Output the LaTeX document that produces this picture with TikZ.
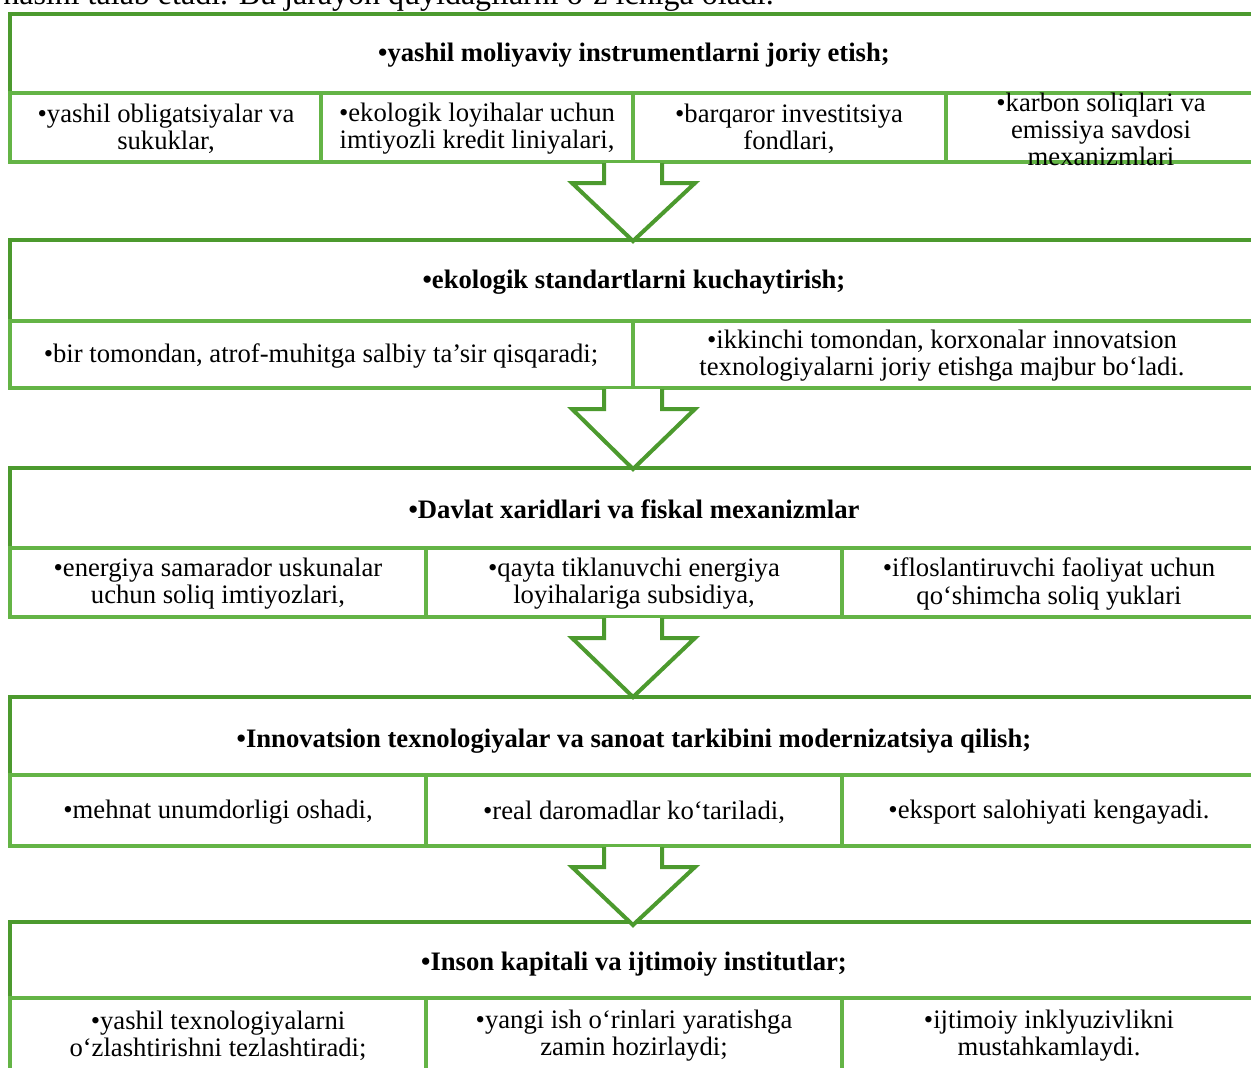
\documentclass[tikz,border=0pt]{standalone}
\usepackage{fontspec}
\setmainfont{Liberation Serif}
\definecolor{gdark}{RGB}{76,154,46}
\definecolor{glight}{RGB}{100,180,70}
\tikzset{
  frame/.style={draw=gdark, line width=3pt},
  cell/.style={draw=glight, line width=3pt},
  txt/.style={align=center, inner sep=0pt, font=\fontsize{20}{20.3}\selectfont},
  hdr/.style={align=center, inner sep=0pt, font=\fontsize{20}{20.3}\selectfont\bfseries},
  barrow/.style={draw=gdark, fill=white, line width=3pt, line join=miter}
}
\newcommand\garrow[2]{%
  \path[barrow] (604,{#1+1}) -- (604,{#1+21}) -- (572,{#1+21}) -- (633,{#2}) -- (695,{#1+21}) -- (662,{#1+21}) -- (662,{#1+1});}
\begin{document}
\begin{tikzpicture}[x=0.75pt,y=-0.75pt]
\useasboundingbox (0,0) rectangle (1251,1067);
\clip (0,0) rectangle (1251,1067);
\fill[white] (0,0) rectangle (1251,1067);

% cut-off line of running text above the figure
\node[inner sep=0pt, font=\fontsize{24}{26}\selectfont, anchor=base east] (intro) at (774,4) {nasini talab etadi. Bu jarayon quyidagilarni o‘z ichiga oladi.};

% ---------- Block 1
\draw[frame] (10,14) rectangle (1262,162);
\draw[cell] (10,93) rectangle (321,162);
\draw[cell] (321,93) rectangle (633,162);
\draw[cell] (633,93) rectangle (946,162);
\draw[cell] (946,93) rectangle (1262,162);
\node[hdr] (h1) at (634,55) {\textbullet yashil moliyaviy instrumentlarni joriy etish;};
\node[txt] (c11) at (166,129) {\textbullet yashil obligatsiyalar va\\sukuklar,};
\node[txt] (c12) at (477,129) {\textbullet ekologik loyihalar uchun\\imtiyozli kredit liniyalari,};
\node[txt] (c13) at (789,129) {\textbullet barqaror investitsiya\\fondlari,};
\node[txt] (c14) at (1101,129) {\textbullet karbon soliqlari va\\emissiya savdosi\\mexanizmlari};

% ---------- Block 2
\draw[frame] (10,240) rectangle (1262,388);
\draw[cell] (10,321) rectangle (633,388);
\draw[cell] (633,321) rectangle (1262,388);
\node[hdr] (h2) at (634,282) {\textbullet ekologik standartlarni kuchaytirish;};
\node[txt] (c21) at (321,356) {\textbullet bir tomondan, atrof-muhitga salbiy ta’sir qisqaradi;};
\node[txt] (c22) at (942,356) {\textbullet ikkinchi tomondan, korxonalar innovatsion\\texnologiyalarni joriy etishga majbur bo‘ladi.};

% ---------- Block 3
\draw[frame] (10,468) rectangle (1262,617);
\draw[cell] (10,548) rectangle (426,617);
\draw[cell] (426,548) rectangle (842,617);
\draw[cell] (842,548) rectangle (1262,617);
\node[hdr] (h3) at (634,509) {\textbullet Davlat xaridlari va fiskal mexanizmlar};
\node[txt] (c31) at (218,584) {\textbullet energiya samarador uskunalar\\uchun soliq imtiyozlari,};
\node[txt] (c32) at (634,584) {\textbullet qayta tiklanuvchi energiya\\loyihalariga subsidiya,};
\node[txt] (c33) at (1049,584) {\textbullet ifloslantiruvchi faoliyat uchun\\qo‘shimcha soliq yuklari};

% ---------- Block 4
\draw[frame] (10,697) rectangle (1262,846);
\draw[cell] (10,775) rectangle (426,846);
\draw[cell] (426,775) rectangle (842,846);
\draw[cell] (842,775) rectangle (1262,846);
\node[hdr] (h4) at (634,741) {\textbullet Innovatsion texnologiyalar va sanoat tarkibini modernizatsiya qilish;};
\node[txt] (c41) at (218,812) {\textbullet mehnat unumdorligi oshadi,};
\node[txt] (c42) at (634,812) {\textbullet real daromadlar ko‘tariladi,};
\node[txt] (c43) at (1049,812) {\textbullet eksport salohiyati kengayadi.};

% ---------- Block 5
\draw[frame] (10,922) rectangle (1262,1100);
\draw[cell] (10,998) rectangle (426,1100);
\draw[cell] (426,998) rectangle (842,1100);
\draw[cell] (842,998) rectangle (1262,1100);
\node[hdr] (h5) at (634,964) {\textbullet Inson kapitali va ijtimoiy institutlar;};
\node[txt] (c51) at (218,1036) {\textbullet yashil texnologiyalarni\\o‘zlashtirishni tezlashtiradi;};
\node[txt] (c52) at (634,1036) {\textbullet yangi ish o‘rinlari yaratishga\\zamin hozirlaydi;};
\node[txt] (c53) at (1049,1036) {\textbullet ijtimoiy inklyuzivlikni\\mustahkamlaydi.};

% ---------- block arrows
\garrow{162}{241}
\garrow{388}{469}
\garrow{617}{697}
\garrow{846}{925}
\end{tikzpicture}
\end{document}
